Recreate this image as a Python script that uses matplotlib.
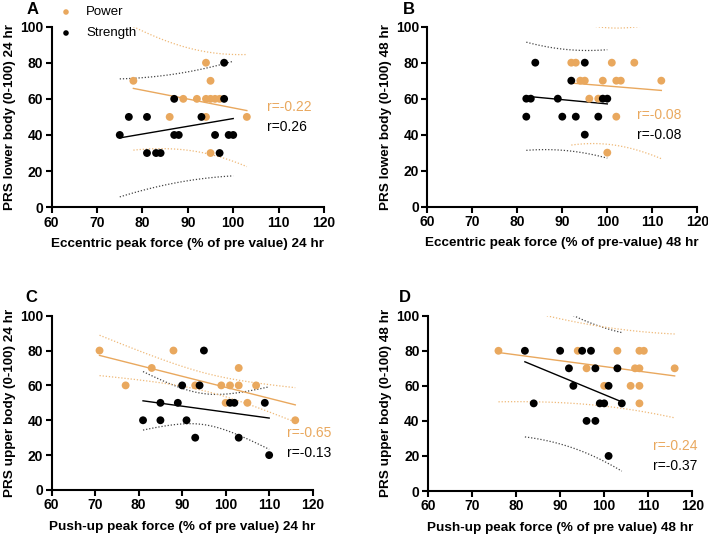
import numpy as np
import matplotlib
matplotlib.use("Agg")
import matplotlib.pyplot as plt

plt.rcParams['font.family'] = ['Liberation Sans', 'DejaVu Sans']

ORANGE = '#E9A85E'
ORANGE_BAND = '#EFB978'
BLACK = '#000000'
GRAY_BAND = '#444444'

# ---- Data ----
# Panel A: lower body 24 hr
a_power_x = [78, 94, 95, 89, 92, 94, 95, 96, 97, 86, 94, 103, 95]
a_power_y = [70, 80, 70, 60, 60, 60, 60, 60, 60, 50, 50, 50, 30]
a_str_x = [98, 87, 98, 77, 81, 93, 75, 87, 88, 96, 99, 100, 81, 83, 84, 97]
a_str_y = [80, 60, 60, 50, 50, 50, 40, 40, 40, 40, 40, 40, 30, 30, 30, 30]

# Panel B: lower body 48 hr
b_power_x = [92, 93, 101, 106, 94, 95, 99, 102, 103, 112, 96, 98, 102, 100]
b_power_y = [80, 80, 80, 80, 70, 70, 70, 70, 70, 70, 60, 60, 50, 30]
b_str_x = [84, 95, 92, 82, 83, 89, 99, 100, 82, 90, 93, 98, 95]
b_str_y = [80, 80, 70, 60, 60, 60, 60, 60, 50, 50, 50, 50, 40]

# Panel C: upper body 24 hr
c_power_x = [71, 88, 83, 103, 77, 93, 99, 101, 103, 107, 100, 105, 116]
c_power_y = [80, 80, 70, 70, 60, 60, 60, 60, 60, 60, 50, 50, 40]
c_str_x = [95, 90, 94, 85, 89, 101, 102, 109, 81, 85, 91, 93, 103, 110]
c_str_y = [80, 60, 60, 50, 50, 50, 50, 50, 40, 40, 40, 30, 30, 20]

# Panel D: upper body 48 hr
d_power_x = [76, 94, 103, 108, 109, 96, 107, 108, 116, 100, 106, 108, 108]
d_power_y = [80, 80, 80, 80, 80, 70, 70, 70, 70, 60, 60, 60, 50]
d_str_x = [82, 90, 95, 97, 92, 98, 103, 93, 101, 84, 99, 100, 104, 96, 98, 101]
d_str_y = [80, 80, 80, 80, 70, 70, 70, 60, 60, 50, 50, 50, 50, 40, 40, 20]

r_power = ['r=-0.22', 'r=-0.08', 'r=-0.65', 'r=-0.24']
r_strength = ['r=0.26', 'r=-0.08', 'r=-0.13', 'r=-0.37']
panel_letters = ['A', 'B', 'C', 'D']
x_labels = ['Eccentric peak force (% of pre value) 24 hr',
            'Eccentric peak force (% of pre-value) 48 hr',
            'Push-up peak force (% of pre value) 24 hr',
            'Push-up peak force (% of pre value) 48 hr']
y_labels = ['PRS lower body (0-100) 24 hr',
            'PRS lower body (0-100) 48 hr',
            'PRS upper body (0-100) 24 hr',
            'PRS upper body (0-100) 48 hr']
x_ticks = [60, 70, 80, 90, 100, 110, 120]
y_ticks = [0, 20, 40, 60, 80, 100]
legend_labels = ['Power', 'Strength']

# band type per panel (as drawn in the original figure)
band_kind = ['prediction', 'prediction', 'confidence', 'prediction']

# text positions (data coords) for r labels
r_pos = [(107.5, 55.7, 44.6), (106.5, 50.9, 39.8), (114.2, 32.5, 21.4), (111.1, 25.9, 14.4)]

panels = [
    (a_power_x, a_power_y, a_str_x, a_str_y),
    (b_power_x, b_power_y, b_str_x, b_str_y),
    (c_power_x, c_power_y, c_str_x, c_str_y),
    (d_power_x, d_power_y, d_str_x, d_str_y),
]

# axes rectangles in figure fractions
rects = [
    [0.073, 0.617, 0.3846, 0.3338],
    [0.6035, 0.618, 0.3814, 0.3327],
    [0.073, 0.0943, 0.3686, 0.3222],
    [0.6045, 0.0924, 0.3733, 0.324],
]
letter_pos = [(27, 9), (403, 9), (25, 297), (399, 297)]

T975 = {11: 2.201, 12: 2.179, 13: 2.160, 14: 2.145, 15: 2.131, 16: 2.120}


def fit_band(x, y, kind):
    x = np.asarray(x, float)
    y = np.asarray(y, float)
    n = len(x)
    slope, intercept = np.polyfit(x, y, 1)
    xs = np.linspace(x.min(), x.max(), 100)
    yhat = intercept + slope * xs
    resid = y - (intercept + slope * x)
    s = np.sqrt(np.sum(resid ** 2) / (n - 2))
    sxx = np.sum((x - x.mean()) ** 2)
    t = T975.get(n - 2, 2.1)
    extra = 1.0 if kind == 'prediction' else 0.0
    hw = t * s * np.sqrt(extra + 1.0 / n + (xs - x.mean()) ** 2 / sxx)
    return xs, yhat, yhat - hw, yhat + hw


fig = plt.figure(figsize=(7.08, 5.41), dpi=100)

for i, (px, py, sx, sy) in enumerate(panels):
    ax = fig.add_axes(rects[i])
    for (xx, yy, col, bcol) in [(sx, sy, BLACK, GRAY_BAND), (px, py, ORANGE, ORANGE_BAND)]:
        xs, yh, lo, hi = fit_band(xx, yy, band_kind[i])
        ax.plot(xs, yh, color=col, lw=1.0, zorder=2)
        ax.plot(xs, lo, color=bcol, lw=0.9, ls=(0, (1, 1.5)), zorder=2)
        ax.plot(xs, hi, color=bcol, lw=0.9, ls=(0, (1, 1.5)), zorder=2)
    ax.scatter(px, py, s=32, color=ORANGE, edgecolors='none', zorder=3, clip_on=False)
    ax.scatter(sx, sy, s=32, color=BLACK, edgecolors='none', zorder=4, clip_on=False)

    ax.set_xlim(60, 120)
    ax.set_ylim(0, 100)
    ax.set_xticks(x_ticks)
    ax.set_yticks(y_ticks)
    for sp in ['top', 'right']:
        ax.spines[sp].set_visible(False)
    for sp in ['left', 'bottom']:
        ax.spines[sp].set_linewidth(1.5)
    ax.tick_params(direction='out', length=4, width=1.5, labelsize=10, pad=2)
    for lab in ax.get_xticklabels() + ax.get_yticklabels():
        lab.set_fontweight('bold')
    ax.set_xlabel(x_labels[i], fontsize=9.7, fontweight='bold', labelpad=6)
    ax.set_ylabel(y_labels[i], fontsize=9.7, fontweight='bold', labelpad=3)

    rx, ry1, ry2 = r_pos[i]
    ax.text(rx, ry1, r_power[i], color=ORANGE, fontsize=10, va='center', ha='left', clip_on=False)
    ax.text(rx, ry2, r_strength[i], color=BLACK, fontsize=10, va='center', ha='left', clip_on=False)

    lx, ly = letter_pos[i]
    fig.text(lx / 708, 1 - ly / 541, panel_letters[i], fontsize=12, fontweight='bold',
             va='center', ha='left')

# legend in panel A
fig.text(86 / 708, 1 - 12 / 541, legend_labels[0], fontsize=9.5, va='center', ha='left')
fig.text(86 / 708, 1 - 33 / 541, legend_labels[1], fontsize=9.5, va='center', ha='left')
lax = fig.add_axes([0, 0, 1, 1], facecolor='none')
lax.set_xlim(0, 708)
lax.set_ylim(541, 0)
lax.axis('off')
lax.scatter([66], [12], s=16, color=ORANGE, edgecolors='none')
lax.scatter([66], [33], s=16, color=BLACK, edgecolors='none')

fig.savefig('out.png', dpi=100)
